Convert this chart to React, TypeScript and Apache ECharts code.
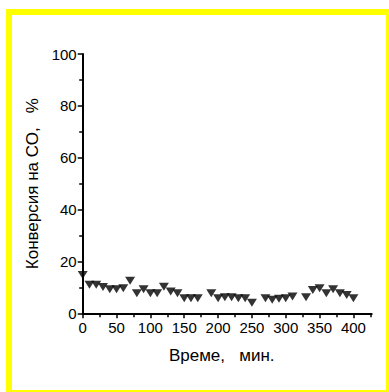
import React, { useEffect, useRef } from "react";
import * as echarts from "echarts";

const times = [0, 10, 20, 30, 40, 50, 60, 70, 80, 90, 100, 110, 120, 130, 140, 150, 160, 170, 190, 200, 210, 220, 230, 240, 250, 270, 280, 290, 300, 310, 330, 340, 350, 360, 370, 380, 390, 400];
const conversion = [14.8, 11, 11, 10.1, 9.3, 9.3, 9.7, 12.6, 7.7, 9.3, 7.7, 7.7, 10.2, 8.4, 7.7, 5.8, 5.8, 5.8, 7.7, 5.8, 6.2, 6.2, 5.8, 5.8, 4.1, 5.8, 5.2, 5.6, 5.8, 6.5, 6.2, 9.0, 9.7, 7.7, 9.3, 7.7, 7.1, 5.8];
const xMajorTicks = [0, 50, 100, 150, 200, 250, 300, 350, 400];
const xMinorTicks = [25, 75, 125, 175, 225, 275, 325, 375, 425];
const xTitle = "Време,   мин.";
const yTitle = "Конверсия на СО,   %";

const FONT = "'Liberation Sans', Arial, sans-serif";

export default function App() {
  const ref = useRef<HTMLDivElement>(null);
  useEffect(() => {
    if (!ref.current) return;
    const chart = echarts.init(ref.current, null, { renderer: "svg" });
    const data = times.map((t, i) => [t, conversion[i]]);
    chart.setOption({
      animation: false,
      backgroundColor: "#ffffff",
      grid: { left: 82.7, right: 17.3, top: 54, bottom: 78.7, containLabel: false },
      graphic: [
        {
          type: "rect",
          shape: { x: 9, y: 12, width: 380, height: 381 },
          style: { fill: "none", stroke: "#ffff00", lineWidth: 6 },
          silent: true,
        },
      ],
      xAxis: [
        {
          type: "value",
          min: 0,
          max: 427,
          splitLine: { show: false },
          axisLine: { show: true, onZero: false, lineStyle: { color: "#000", width: 2 } },
          axisTick: { show: true, customValues: xMajorTicks, length: 5, lineStyle: { color: "#000", width: 1.5 } },
          axisLabel: { customValues: xMajorTicks, color: "#000", fontSize: 15, fontFamily: FONT, margin: 7 },
          name: xTitle,
          nameLocation: "middle",
          nameGap: 34,
          nameTextStyle: { color: "#000", fontSize: 17, fontFamily: FONT, padding: [0, 11, 0, 0] },
        },
        {
          type: "value",
          min: 0,
          max: 427,
          position: "bottom",
          splitLine: { show: false },
          axisLine: { show: false },
          axisTick: { show: true, customValues: xMinorTicks, length: 4, lineStyle: { color: "#000", width: 1.5 } },
          axisLabel: { show: false },
        },
      ],
      yAxis: {
        type: "value",
        min: 0,
        max: 100,
        interval: 20,
        splitLine: { show: false },
        axisLine: { show: true, lineStyle: { color: "#000", width: 2 } },
        axisTick: { show: true, length: 5, lineStyle: { color: "#000", width: 1.5 } },
        minorTick: { show: true, splitNumber: 2, length: 3.5, lineStyle: { color: "#000", width: 1.5 } },
        minorSplitLine: { show: false },
        axisLabel: { color: "#000", fontSize: 15, fontFamily: FONT, margin: 6 },
        name: yTitle,
        nameLocation: "middle",
        nameGap: 37,
        nameTextStyle: { color: "#000", fontSize: 17, fontFamily: FONT },
      },
      series: [
        {
          type: "scatter",
          data,
          xAxisIndex: 0,
          symbol: "triangle",
          symbolRotate: 180,
          symbolSize: [10, 8],
          itemStyle: { color: "#000" },
        },
      ],
    });
    return () => chart.dispose();
  }, []);
  return <div ref={ref} style={{ position: "fixed", left: 0, top: 0, width: 389, height: 392 }} />;
}
